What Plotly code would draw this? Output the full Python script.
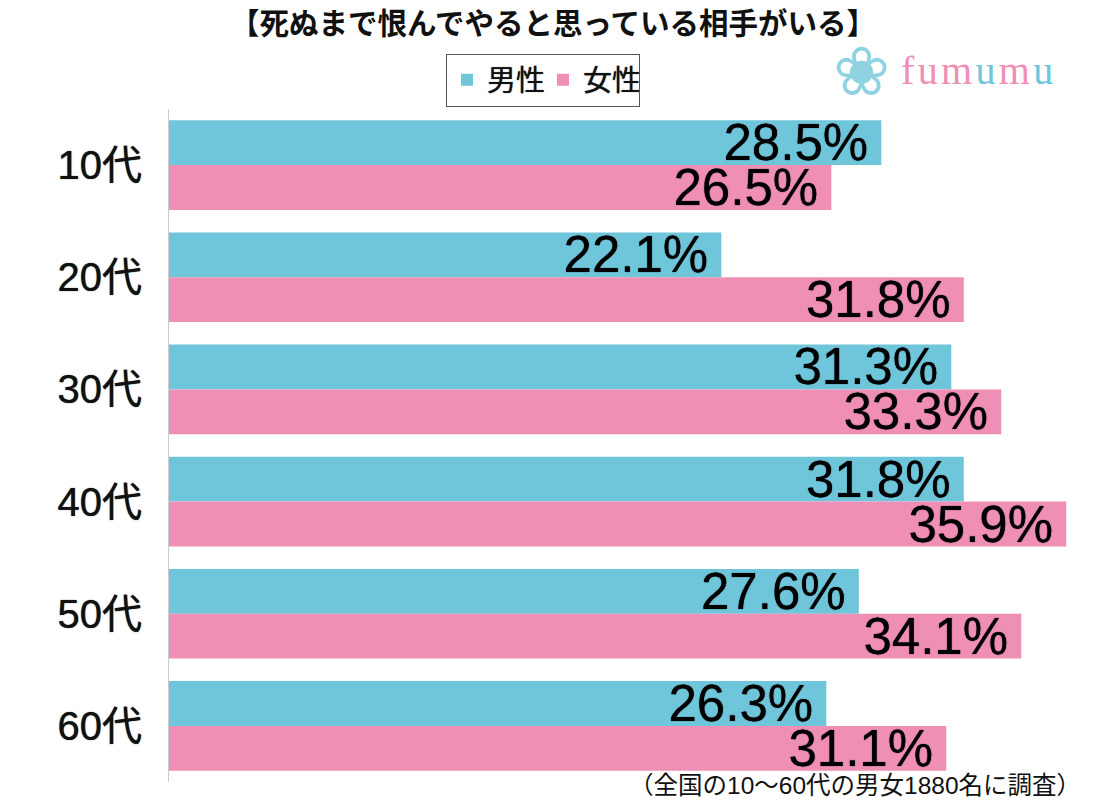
import plotly.graph_objects as go

categories = ["10代", "20代", "30代", "40代", "50代", "60代"]
male = [28.5, 22.1, 31.3, 31.8, 27.6, 26.3]
female = [26.5, 31.8, 33.3, 35.9, 34.1, 31.1]
title = "<b>【死ぬまで恨んでやると思っている相手がいる】</b>"
note = "（全国の10～60代の男女1880名に調査）"
font = "Liberation Sans, Noto Sans CJK JP"
TEAL = "#6FC6DB"
PINK = "#EF8FB6"
HEAVY = "0 0 1px #000"
logo = (f'<span style="color:{PINK}">f\u200au\u200am</span>\u200a<span style="color:{TEAL}">u</span>\u200a'
        f'<span style="color:{PINK}">m</span>\u200a<span style="color:{TEAL}">u</span>')

fig = go.Figure()
for name, vals, col in (("男性", male, TEAL), ("女性", female, PINK)):
    fig.add_bar(y=categories, x=vals, name=name, orientation="h", marker=dict(color=col, line_width=0),
                text=[f"{v}%\u2009" for v in vals], textposition="inside", insidetextanchor="end",
                textangle=0, textfont=dict(size=51, color="#000", family=font, shadow=HEAVY),
                constraintext="none", cliponaxis=False)
W, H = 1094, 792
fig.update_layout(
    width=W, height=H, barmode="group", bargap=0.2, bargroupgap=0,
    margin=dict(l=0, r=0, t=0, b=0), paper_bgcolor="white", plot_bgcolor="white",
    font=dict(family=font, color="#111"),
    title=dict(text=title, x=545/W, xanchor="center", y=1-16/H, yanchor="middle", font=dict(size=29.5, color="#111", family=font)),
    legend=dict(orientation="h", x=535/W, xanchor="center", y=1-72/H, yanchor="middle", bordercolor="#555", borderwidth=1,
                font=dict(size=29, color="#111", shadow="0 0 1px #333"), traceorder="normal", itemwidth=30, entrywidth=51,
                entrywidthmode="pixels", tracegroupgap=0),
    xaxis=dict(domain=[161/W, 1], range=[0, 37.33], visible=False),
    yaxis=dict(domain=[18/H, 691/H], autorange="reversed", showline=True, linecolor="#ccc", ticks="",
               tickfont=dict(size=40, color="#111", shadow="0 0 1px #111"), ticklabelstandoff=18),
    annotations=[
        dict(text=note, x=1075/W, y=1-777/H, xref="paper", yref="paper", xanchor="right", yanchor="middle",
             showarrow=False, font=dict(size=24.5, color="#111", family=font)),
        dict(text=logo, x=891/W, y=1-62/H, xref="paper", yref="paper", xanchor="left", yanchor="middle",
             showarrow=False, font=dict(size=40, family="Liberation Serif")),
        dict(text="❀", x=853/W, y=1-64/H, xref="paper", yref="paper", xanchor="center", yanchor="middle",
             showarrow=False, font=dict(size=68, color="#8FD3E3", family="DejaVu Sans")),
    ],
)
fig.write_html("out.html")
